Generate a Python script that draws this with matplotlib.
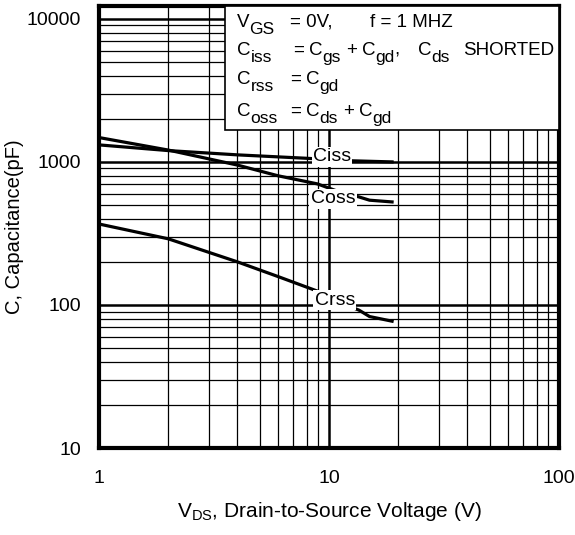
import matplotlib
matplotlib.use("Agg")
import matplotlib.pyplot as plt
from matplotlib.patches import Rectangle
from matplotlib.ticker import FixedLocator, NullFormatter

plt.rcParams['font.family'] = ['Liberation Sans', 'DejaVu Sans']
plt.rcParams['mathtext.fontset'] = 'custom'
plt.rcParams['mathtext.rm'] = 'Liberation Sans'
plt.rcParams['mathtext.it'] = 'Liberation Sans:italic'

# Ciss / Coss / Crss vs drain-source voltage
ciss_v = [1, 2, 4, 8, 12, 18.8]
ciss = [1315, 1200, 1120, 1060, 1020, 1000]

coss_v = [1, 2, 4, 6, 8.9, 11, 13.5, 15, 18.8]
coss = [1480, 1210, 950, 800, 702, 620, 569, 540, 525]

crss_v = [1, 2, 4, 6, 8.9, 11, 13.5, 15, 18.8]
crss = [368, 290, 200, 158, 125, 105, 92, 83, 77]

x_ticks = [1, 10, 100]
x_labels = ['1', '10', '100']
y_ticks = [10, 100, 1000, 10000]
y_labels = ['10', '100', '1000', '10000']

# test conditions box: (text, is_subscript, anchor x pixel or None to follow on)
cond_lines = [
    [('V', 0, 237), ('GS', 1, None), ('= 0V,', 0, 290), ('f = 1 MHZ', 0, 370)],
    [('C', 0, 237), ('iss', 1, None), ('=', 0, 293), ('C', 0, None), ('gs', 1, None),
     ('+', 0, None), ('C', 0, None), ('gd', 1, None), (',', 0, None),
     ('C', 0, 418), ('ds', 1, None), ('SHORTED', 0, 463)],
    [('C', 0, 237), ('rss', 1, None), ('=', 0, 290), ('C', 0, None), ('gd', 1, None)],
    [('C', 0, 237), ('oss', 1, None), ('=', 0, 290), ('C', 0, None), ('ds', 1, None),
     ('+', 0, None), ('C', 0, None), ('gd', 1, None)],
]
cond_base = [27, 55, 84, 116]

fig = plt.figure(figsize=(5.75, 5.35), dpi=100)
ax = fig.add_axes([0.1722, 0.1626, 0.8, 0.8262])

ax.set_xscale('log')
ax.set_yscale('log')
ax.set_xlim(1, 100)
ax.set_ylim(10, 12300)

ax.set_xticks(x_ticks)
ax.set_xticklabels(x_labels)
ax.set_yticks(y_ticks)
ax.set_yticklabels(y_labels)
ax.xaxis.set_minor_locator(FixedLocator([m * 10 ** d for d in range(0, 2) for m in range(2, 10)]))
ax.yaxis.set_minor_locator(FixedLocator([m * 10 ** d for d in range(1, 4) for m in range(2, 10)]))
ax.xaxis.set_minor_formatter(NullFormatter())
ax.yaxis.set_minor_formatter(NullFormatter())
ax.tick_params(which='both', length=0)
ax.tick_params(axis='x', pad=16, labelsize=14)
ax.tick_params(axis='y', pad=13, labelsize=14)

ax.set_axisbelow(True)
ax.grid(which='major', color='black', lw=1.8)
ax.grid(which='minor', color='black', lw=0.9)
for s in ax.spines.values():
    s.set_linewidth(3)

ax.plot(ciss_v, ciss, color='black', lw=2.3, zorder=3)
ax.plot(coss_v, coss, color='black', lw=2.3, zorder=3)
ax.plot(crss_v, crss, color='black', lw=2.3, zorder=3)

lbl = dict(fontsize=14, ha='center', va='center', zorder=5,
           bbox=dict(facecolor='white', edgecolor='none', pad=1))
ax.text(10.3, 1084, 'Ciss', **lbl)
ax.text(10.4, 551, 'Coss', **lbl)
ax.text(10.6, 108, 'Crss', **lbl)

ax.add_patch(Rectangle((0.274, 0.719), 0.726, 0.281, transform=ax.transAxes,
                       facecolor='white', edgecolor='black', lw=1.2, zorder=4))

# lay the box text out piece by piece so subscripts sit low and near full size
renderer = fig.canvas.get_renderer()
for base, parts in zip(cond_base, cond_lines):
    cur = 237
    for s, sub, anchor in parts:
        if anchor is not None:
            cur = anchor
        elif not sub and s != ',':
            cur += 5
        ya = (448 - base - (7 if sub else 0)) / 442
        t = ax.text((cur - 99) / 460, ya, s, transform=ax.transAxes,
                    fontsize=12.5 if sub else 13.5, va='baseline', ha='left', zorder=5)
        cur = t.get_window_extent(renderer).x1

ax.set_xlabel(r'$\mathregular{V_{DS}}$, Drain-to-Source Voltage (V)', fontsize=15, labelpad=9)
ax.set_ylabel('C, Capacitance(pF)', fontsize=14.5, labelpad=2)

fig.savefig('out.png', dpi=100)
